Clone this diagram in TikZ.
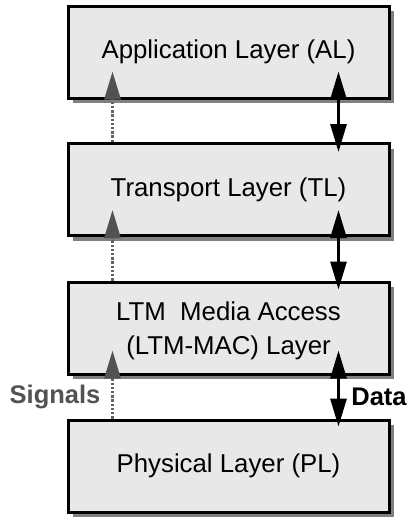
\documentclass[tikz,border=0pt]{standalone}
\usepackage{fontspec}
\setmainfont{Liberation Sans}
\usetikzlibrary{arrows.meta,shadows,calc}
\begin{document}
\begin{tikzpicture}[x=1pt,y=-1pt,
  layer/.style={draw=black,line width=3pt,fill=black!9,minimum width=321pt,minimum height=92pt,
    inner sep=0pt,align=center,font=\fontsize{25.8}{34}\selectfont,
    drop shadow={shadow xshift=5pt,shadow yshift=-5pt,fill=black!50,opacity=1}},
  sig/.style={draw=black!62,line width=3pt,dash pattern=on 2.4pt off 1.8pt,-{Triangle[length=28pt,width=16pt,color=black!68,fill=black!68]}},
  dat/.style={draw=black,line width=3pt,{Triangle[length=28pt,width=16pt]}-{Triangle[length=28pt,width=16pt]}},
  lbl/.style={font=\bfseries\fontsize{25.5}{30}\selectfont}]
\useasboundingbox (0,0) rectangle (407,517);
\node[layer] (al) at (228.5,52) {Application Layer (AL)};
\node[layer] (tl) at (228.5,189.5) {Transport Layer (TL)};
\node[layer,text depth=-6pt] (mac) at (228.5,328) {LTM\ \ Media Access\\(LTM-MAC) Layer};
\node[layer] (pl) at (228.5,466) {Physical Layer (PL)};
% signals (left)
\draw[sig] ([xshift=46pt]tl.north west) -- ([xshift=46pt,yshift=28pt]al.south west);
\draw[sig] ([xshift=46pt]mac.north west) -- ([xshift=46pt,yshift=27pt]tl.south west);
\draw[sig] ([xshift=46pt]pl.north west) -- ([xshift=46pt,yshift=25pt]mac.south west);
% data (right)
\draw[dat] ([xshift=-52pt,yshift=28pt]al.south east) -- ([xshift=-52pt,yshift=-10pt]tl.north east);
\draw[dat] ([xshift=-52pt,yshift=27pt]tl.south east) -- ([xshift=-52pt,yshift=-9pt]mac.north east);
\draw[dat] ([xshift=-52pt,yshift=25pt]mac.south east) -- ([xshift=-52pt,yshift=-8pt]pl.north east);
\node[lbl,text=black!68] (sg) at (55,397) {Signals};
\node[lbl] (dt) at (379,397) {Data};
\end{tikzpicture}
\end{document}
